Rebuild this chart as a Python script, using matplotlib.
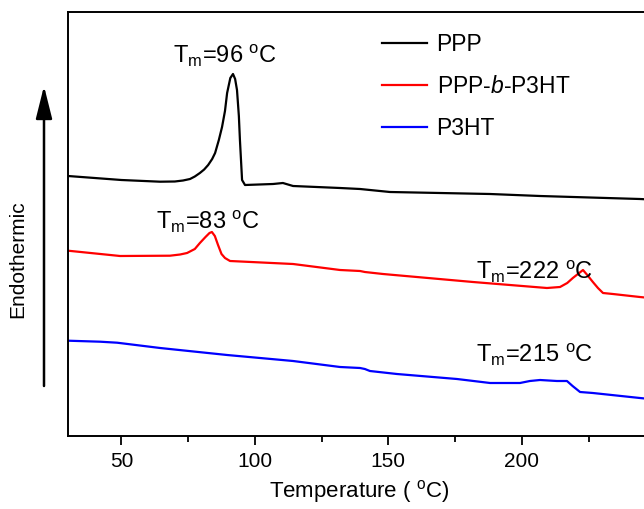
import matplotlib
matplotlib.use("Agg")
import matplotlib.pyplot as plt
from matplotlib.ticker import MultipleLocator

plt.rcParams['font.family'] = ['Liberation Sans', 'DejaVu Sans']
plt.rcParams['mathtext.fontset'] = 'custom'
plt.rcParams['mathtext.rm'] = 'Liberation Sans'
plt.rcParams['mathtext.it'] = 'Liberation Sans:italic'

# DSC traces (temperature in degC, heat flow in arbitrary units, curves offset)
ppp_t = [30, 50, 64.5, 70.0, 73.1, 75.7, 77.5, 79.4, 81.0, 82.5, 84.0, 85.1, 86.5, 87.7, 88.8,
         89.6, 90.8, 91.8, 92.6, 93.3, 94.0, 94.4, 95.2, 96.3, 106.8, 110.5, 114.3, 131.9,
         139.4, 150.6, 188.1, 206.8, 244.2, 248]
ppp_y = [260, 256, 254.3, 254.5, 255.5, 257, 259.5, 263, 266.5, 271, 277, 283, 296, 309, 325,
         343, 358, 362, 357, 346, 320, 296, 256, 251, 252, 253, 250, 248,
         247, 244, 242, 240, 237, 236.5]

blk_t = [30, 49.5, 68.2, 72.0, 74.6, 77.5, 79.4, 81.5, 83.0, 83.9, 85.0, 86.2, 87.5, 88.8, 90.7,
         114.3, 131.9, 139.4, 141.2, 148.0, 181.7, 209.4, 214.3, 217.0, 219.1, 221.0, 222.9,
         224.5, 226.6, 228.5, 230.4, 234.1, 244.2, 248]
blk_y = [185.3, 180, 180.3, 181.5, 183, 187, 193, 199, 203, 204, 200, 191, 182, 178, 175,
         172, 166, 165, 164, 162, 154, 148, 149, 153, 158, 162, 166,
         161, 154, 148, 143, 142, 139, 138]

p3ht_t = [30, 42, 48.4, 64.5, 89.6, 114.3, 131.9, 139.4, 141.2, 143.1, 153.2, 175.7, 188.1,
          199.3, 203.0, 206.8, 213.1, 216.9, 219.0, 221.8, 226.6, 244.2, 248]
p3ht_y = [95.3, 94.3, 93.3, 88, 81, 75, 69, 68, 67, 65, 62, 57, 53,
          53, 55, 56, 55, 55, 50, 44, 43, 38, 37]

labels = ['PPP', 'PPP-$\\mathit{b}$-P3HT', 'P3HT']
colors = ['black', 'red', 'blue']

# Tm annotations: (temperature, height, text)
notes_t = [88.8, 82.4, 204.9, 204.9]
notes_y = [380, 214, 164, 81]
notes_txt = ['T$_\\mathregular{m}$=96 $^\\mathregular{o}$C',
             'T$_\\mathregular{m}$=83 $^\\mathregular{o}$C',
             'T$_\\mathregular{m}$=222 $^\\mathregular{o}$C',
             'T$_\\mathregular{m}$=215 $^\\mathregular{o}$C']

fig = plt.figure(figsize=(6.44, 5.09), dpi=100)
ax = fig.add_axes([68 / 644, 73 / 509, 582 / 644, 424 / 509])

for t, y, lab, c in zip([ppp_t, blk_t, p3ht_t], [ppp_y, blk_y, p3ht_y], labels, colors):
    ax.plot(t, y, color=c, lw=1.6, label=lab)

for t, y, s in zip(notes_t, notes_y, notes_txt):
    ax.text(t, y, s, fontsize=17, ha='center', va='center')

ax.set_xlim(30, 248)
ax.set_ylim(0, 424)
ax.set_yticks([])
ax.xaxis.set_major_locator(MultipleLocator(50))
ax.xaxis.set_minor_locator(MultipleLocator(25))
ax.tick_params(axis='x', which='major', direction='out', length=6.5, width=1.3, labelsize=15, pad=5)
ax.tick_params(axis='x', which='minor', direction='out', length=4.5, width=1.3)
for sp in ax.spines.values():
    sp.set_linewidth(1.4)
ax.set_xlabel('Temperature ( $^\\mathregular{o}$C)', fontsize=16, labelpad=5)

leg = ax.legend(loc='upper left', bbox_to_anchor=(293 / 582, 1.0), frameon=False,
                fontsize=16.5, handlelength=2.0, handletextpad=0.4, labelspacing=0.83)
for line in leg.get_lines():
    line.set_linewidth(1.6)

fig.text(18 / 644, 1 - 259 / 509, 'Endothermic', rotation=90, fontsize=15,
         ha='center', va='center')
ax.annotate('', xy=(44 / 644, 1 - 86 / 509), xytext=(44 / 644, 1 - 386 / 509),
            xycoords='figure fraction', textcoords='figure fraction',
            arrowprops=dict(arrowstyle='-|>,head_length=0.8,head_width=0.2',
                            lw=1.8, color='black', mutation_scale=25,
                            shrinkA=0, shrinkB=0))

fig.savefig('out.png', dpi=100)
